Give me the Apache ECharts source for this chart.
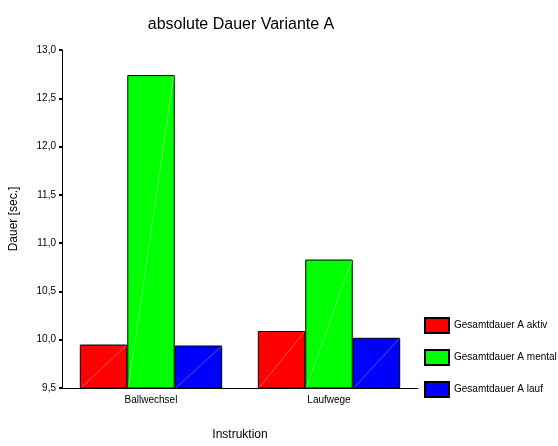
<!DOCTYPE html>
<html>
<head>
	<meta charset="utf-8">
	<title>absolute Dauer Variante A</title>
	<script src="https://cdn.jsdelivr.net/npm/echarts@6/dist/echarts.min.js"></script>
	<style>
		html,body{margin:0;padding:0;background:#fff}
	</style>
</head>
<body>
<div id="main" style="width:558px;height:446px;"></div>
<script>
	// Werte
	var categories = ['Ballwechsel', 'Laufwege'];
	var aktiv = [9.95, 10.09];
	var mental = [12.74, 10.83];
	var lauf = [9.94, 10.02];
	var seriesNames = ['Gesamtdauer A aktiv', 'Gesamtdauer A mental', 'Gesamtdauer A lauf'];
	var colors = ['#ff0000', '#00ff00', '#0000ff'];

	var font = 'Liberation Sans, Arial, sans-serif';
	var catGap = 0.2;
	var yMin = 9.5;
	var chart = echarts.init(document.getElementById('main'));

	function bar(name, data, color) {
		return {
			name: name,
			type: 'bar',
			data: data,
			barGap: '0%',
			barCategoryGap: (catGap * 100) + '%',
			itemStyle: {color: color, borderColor: '#000', borderWidth: 1}
		};
	}

	// die feine weisse Diagonale in jedem Balken (SPSS-Schraffur)
	function diag(data, idx) {
		return {
			type: 'custom',
			z: 5,
			silent: true,
			data: data.map(function (v, i) { return [i, v]; }),
			renderItem: function (params, api) {
				var top = api.coord([api.value(0), api.value(1)]);
				var base = api.coord([api.value(0), yMin]);
				var band = api.size([1, 0])[0];
				var w = band * (1 - catGap) / 3;
				var x0 = top[0] - band * (1 - catGap) / 2 + idx * w;
				return {
					type: 'line',
					shape: {x1: x0 + 1, y1: base[1], x2: x0 + w - 1, y2: top[1] + 1},
					style: {stroke: 'rgba(255,255,255,0.55)', lineWidth: 0.6}
				};
			}
		};
	}

	var option = {
		animation: false,
		title: {
			text: 'absolute Dauer Variante A',
			left: 236, top: 12, textAlign: 'center',
			textStyle: {fontFamily: font, fontSize: 16, fontWeight: 'normal', color: '#000'}
		},
		legend: {
			orient: 'vertical',
			left: 424, top: 317,
			padding: 0,
			itemWidth: 24, itemHeight: 15, itemGap: 15,
			icon: 'rect',
			textStyle: {fontFamily: font, fontSize: 10, color: '#000'},
			data: seriesNames
		},
		grid: {left: 60, right: 140, top: 50, bottom: 54},
		xAxis: {
			type: 'category',
			data: categories,
			name: 'Instruktion',
			nameLocation: 'middle',
			nameGap: 41,
			nameTextStyle: {fontFamily: font, fontSize: 12, color: '#000'},
			axisLine: {lineStyle: {color: '#000', width: 1}},
			axisTick: {alignWithLabel: true, length: 3, lineStyle: {color: '#000', width: 2}},
			axisLabel: {fontFamily: font, fontSize: 10, color: '#000', margin: 7}
		},
		yAxis: {
			type: 'value',
			min: yMin, max: 13, interval: 0.5,
			name: 'Dauer [sec.]',
			nameLocation: 'middle',
			nameGap: 42,
			nameTextStyle: {fontFamily: font, fontSize: 12, color: '#000'},
			axisLine: {show: true, lineStyle: {color: '#000', width: 1}},
			axisTick: {show: true, length: 3, lineStyle: {color: '#000', width: 2}},
			splitLine: {show: false},
			axisLabel: {
				fontFamily: font, fontSize: 10, color: '#000', margin: 6,
				formatter: function (v) { return v.toFixed(1).replace('.', ','); }
			}
		},
		series: [
			bar(seriesNames[0], aktiv, colors[0]),
			bar(seriesNames[1], mental, colors[1]),
			bar(seriesNames[2], lauf, colors[2]),
			diag(aktiv, 0),
			diag(mental, 1),
			diag(lauf, 2)
		]
	};
	chart.setOption(option);
</script>
</body>
</html>
